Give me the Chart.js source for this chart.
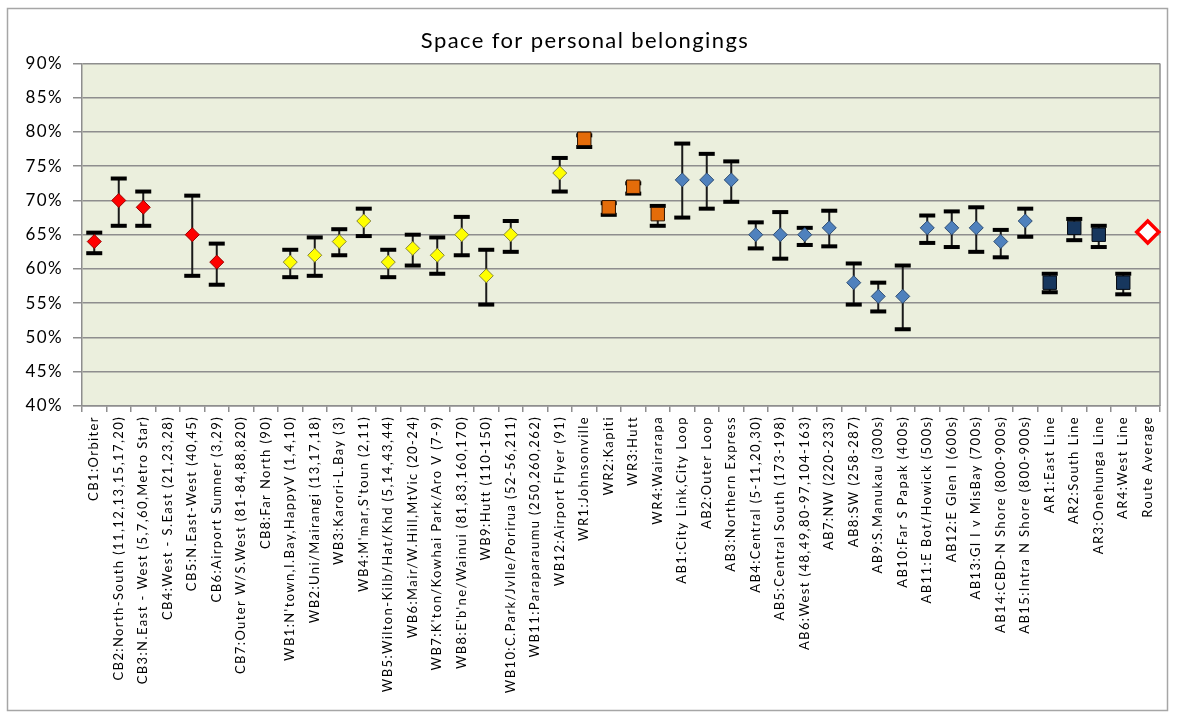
<!DOCTYPE html>
<html>
<head>
<meta charset="utf-8">
<title>Space for personal belongings</title>
<script src="https://cdn.jsdelivr.net/npm/chart.js@4.4.1/dist/chart.umd.min.js"></script>
<style>
  html, body { margin: 0; padding: 0; background: #ffffff; }
  #wrap { width: 1178px; height: 716px; position: relative; }
</style>
</head>
<body>
<div id="wrap"><canvas id="chart"></canvas></div>
<script>
// Route categories, in axis order
const categories = [
  'CB1:Orbiter',
  'CB2:North-South (11,12,13,15,17,20)',
  'CB3:N.East - West (5,7,60,Metro Star)',
  'CB4:West - S.East (21,23,28)',
  'CB5:N.East-West (40,45)',
  'CB6:Airport Sumner (3,29)',
  'CB7:Outer W/S.West (81-84,88,820)',
  'CB8:Far North (90)',
  "WB1:N'town,I.Bay,HappyV (1,4,10)",
  'WB2:Uni/Mairangi (13,17,18)',
  'WB3:Karori-L.Bay (3)',
  "WB4:M'mar,S'toun (2,11)",
  'WB5:Wilton-Kilb/Hat/Khd (5,14,43,44)',
  'WB6:Mair/W.Hill,MtVic (20-24)',
  "WB7:K'ton/Kowhai Park/Aro V (7-9)",
  "WB8:E'b'ne/Wainui (81,83,160,170)",
  'WB9:Hutt (110-150)',
  'WB10:C.Park/Jvlle/Porirua (52-56,211)',
  'WB11:Paraparaumu (250,260,262)',
  'WB12:Airport Flyer (91)',
  'WR1:Johnsonville',
  'WR2:Kapiti',
  'WR3:Hutt',
  'WR4:Wairarapa',
  'AB1:City Link,City Loop',
  'AB2:Outer Loop',
  'AB3:Northern Express',
  'AB4:Central (5-11,20,30)',
  'AB5:Central South (173-198)',
  'AB6:West (48,49,80-97,104-163)',
  'AB7:NW (220-233)',
  'AB8:SW (258-287)',
  'AB9:S.Manukau (300s)',
  'AB10:Far S Papak (400s)',
  'AB11:E Bot/Howick (500s)',
  'AB12:E Glen I (600s)',
  'AB13:Gl I v MisBay (700s)',
  'AB14:CBD-N Shore (800-900s)',
  'AB15:Intra N Shore (800-900s)',
  'AR1:East Line',
  'AR2:South Line',
  'AR3:Onehunga Line',
  'AR4:West Line',
  'Route Average'
];

// Mean satisfaction (%) per route; null where no result
const meanScores = [
  64, 70, 69, null, 65, 61, null, null,
  61, 62, 64, 67, 61, 63, 62, 65, 59, 65, null, 74,
  79, 69, 72, 68,
  73, 73, 73, 65, 65, 65, 66, 58, 56, 56, 66, 66, 66, 64, 67,
  58, 66, 65, 58,
  65.4
];

// Upper end of each confidence interval (%)
const upperBounds = [
  65.3, 73.2, 71.3, null, 70.7, 63.7, null, null,
  62.8, 64.6, 65.8, 68.8, 62.8, 65.0, 64.6, 67.6, 62.8, 67.0, null, 76.2,
  79.5, 69.6, 72.5, 69.2,
  78.3, 76.8, 75.7, 66.8, 68.3, 66.0, 68.5, 60.8, 58.0, 60.5, 67.8, 68.4, 69.0, 65.7, 68.8,
  59.3, 67.3, 66.3, 59.3,
  null
];

// Lower end of each confidence interval (%)
const lowerBounds = [
  62.3, 66.3, 66.3, null, 59.0, 57.7, null, null,
  58.8, 59.0, 62.0, 64.8, 58.8, 60.5, 59.3, 62.0, 54.8, 62.5, null, 71.3,
  77.8, 67.9, 71.0, 66.3,
  67.5, 68.8, 69.8, 63.0, 61.5, 63.5, 63.3, 54.8, 53.8, 51.2, 63.8, 63.2, 62.5, 61.7, 64.7,
  56.6, 64.2, 63.2, 56.3,
  null
];

// Value axis range and step (%)
const yAxisMin = 40;
const yAxisMax = 90;
const yAxisStep = 5;

// Marker appearance for each route group
const groupStyles = {
  CB:    { shape: 'rectRot', radius: 7,  fill: '#FF0000', border: '#9A0000', width: 1 },
  WB:    { shape: 'rectRot', radius: 7,  fill: '#FFFF00', border: '#85853A', width: 1 },
  WR:    { shape: 'rect',    radius: 9.5, fill: '#E46C0A', border: '#2A1200', width: 1 },
  AB:    { shape: 'rectRot', radius: 7,  fill: '#4F81BD', border: '#2E4D74', width: 1 },
  AR:    { shape: 'rect',    radius: 9.5, fill: '#17375E', border: '#050A12', width: 1 },
  Route: { shape: 'rectRot', radius: 11, fill: '#FFFFFF', border: '#FF0000', width: 3.5 }
};

function groupOf(label) {
  const m = label.match(/^(CB|WB|WR|AB|AR)\d/);
  return m ? m[1] : 'Route';
}

const datasets = Object.keys(groupStyles).map(key => {
  const st = groupStyles[key];
  return {
    label: key,
    data: meanScores.map((v, i) => (groupOf(categories[i]) === key ? v : null)),
    showLine: false,
    pointStyle: st.shape,
    pointRadius: st.radius,
    pointHoverRadius: st.radius,
    pointBackgroundColor: st.fill,
    pointBorderColor: st.border,
    pointBorderWidth: st.width,
    borderColor: st.border,
    backgroundColor: st.fill
  };
});

// Shared text spacing for all labels on the canvas
const textSpacing = {
  id: 'textSpacing',
  beforeLayout(chart) { chart.ctx.letterSpacing = '1.4px'; },
  beforeDraw(chart) { chart.ctx.letterSpacing = '1.4px'; }
};

// Plot background, outer frame
const frame = {
  id: 'frame',
  beforeDraw(chart) {
    const { ctx, chartArea: a } = chart;
    ctx.save();
    ctx.fillStyle = '#EBEFDD';
    ctx.fillRect(a.left, a.top, a.right - a.left, a.bottom - a.top);
    ctx.strokeStyle = '#A6A6A6';
    ctx.lineWidth = 1.5;
    ctx.strokeRect(7.5, 8.5, 1160, 702);
    ctx.restore();
  },
  beforeDatasetsDraw(chart) {
    const { ctx, chartArea: a } = chart;
    ctx.save();
    ctx.strokeStyle = '#8E8E8E';
    ctx.lineWidth = 1.5;
    ctx.beginPath();
    ctx.moveTo(a.right, a.top);
    ctx.lineTo(a.right, a.bottom);
    ctx.stroke();
    ctx.restore();
  }
};

// Confidence interval whiskers with caps
const errorBars = {
  id: 'errorBars',
  beforeDatasetsDraw(chart) {
    const { ctx } = chart;
    const xs = chart.scales.x, ys = chart.scales.y;
    ctx.save();
    for (let i = 0; i < categories.length; i++) {
      const hi = upperBounds[i], lo = lowerBounds[i];
      if (hi == null || lo == null) continue;
      const x = xs.getPixelForValue(i);
      const yHi = ys.getPixelForValue(hi);
      const yLo = ys.getPixelForValue(lo);
      ctx.strokeStyle = '#1A1A1A';
      ctx.lineWidth = 2;
      ctx.beginPath();
      ctx.moveTo(x, yHi);
      ctx.lineTo(x, yLo);
      ctx.stroke();
      ctx.fillStyle = '#000000';
      const capW = 16, capH = 4;
      ctx.fillRect(x - capW / 2, yHi - capH / 2, capW, capH);
      ctx.fillRect(x - capW / 2, yLo - capH / 2, capW, capH);
    }
    ctx.restore();
  }
};

new Chart(document.getElementById('chart'), {
  type: 'line',
  data: { labels: categories, datasets },
  plugins: [textSpacing, frame, errorBars],
  options: {
    responsive: true,
    maintainAspectRatio: false,
    animation: false,
    events: [],
    layout: { padding: { left: 10, right: 18, top: 0, bottom: 0 } },
    plugins: {
      legend: { display: false },
      tooltip: { enabled: false },
      title: {
        display: true,
        text: 'Space for personal belongings',
        color: '#000000',
        font: { family: 'Lato', size: 22, weight: 'normal' },
        padding: { top: 28, bottom: 9 }
      }
    },
    scales: {
      x: {
        type: 'category',
        offset: true,
        grid: {
          offset: true,
          drawOnChartArea: false,
          drawTicks: true,
          tickLength: 6,
          color: '#8E8E8E',
          lineWidth: 1.5
        },
        border: { display: true, color: '#8E8E8E', width: 1.5 },
        ticks: {
          autoSkip: false,
          minRotation: 90,
          maxRotation: 90,
          padding: 4,
          color: '#000000',
          font: { family: 'Lato', size: 13 }
        },
        afterFit(scale) { scale.height = 310; }
      },
      y: {
        min: yAxisMin,
        max: yAxisMax,
        ticks: {
          stepSize: yAxisStep,
          padding: 10,
          color: '#000000',
          font: { family: 'Lato', size: 17 },
          callback: v => v + '%'
        },
        grid: {
          color: '#8E8E8E',
          lineWidth: 1.5,
          tickLength: 9
        },
        border: { display: true, color: '#8E8E8E', width: 1.5 },
        afterFit(scale) { scale.width = 72; }
      }
    }
  }
});
</script>
</body>
</html>
